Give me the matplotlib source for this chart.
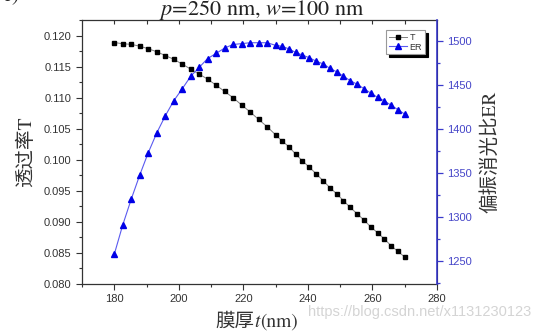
import matplotlib
matplotlib.use('Agg')
import matplotlib.pyplot as plt
from matplotlib.ticker import MultipleLocator

# 膜厚 t (nm)
thickness = [180.0, 182.6, 185.3, 187.9, 190.5, 193.2, 195.8, 198.4, 201.1, 203.7,
             206.3, 208.9, 211.6, 214.2, 216.8, 219.5, 222.1, 224.7, 227.4, 230.0,
             232.0, 234.1, 236.2, 238.3, 240.4, 242.6, 244.7, 246.8, 248.9, 251.0,
             253.1, 255.2, 257.3, 259.4, 261.6, 263.7, 265.8, 267.9, 270.0]

# 透过率 T
trans = [0.1189, 0.1187, 0.1186, 0.1183, 0.1179, 0.1174, 0.1168, 0.1162, 0.1154, 0.1146,
         0.1138, 0.1130, 0.1120, 0.1110, 0.1100, 0.1088, 0.1077, 0.1065, 0.1053, 0.1040,
         0.1030, 0.1021, 0.1009, 0.0998, 0.0988, 0.0977, 0.0966, 0.0955, 0.0945, 0.0934,
         0.0923, 0.0913, 0.0903, 0.0892, 0.0882, 0.0872, 0.0861, 0.0852, 0.0843]

# 偏振消光比 ER
er = [1258, 1291, 1321, 1348, 1373, 1396, 1415, 1432, 1446, 1460,
      1470, 1480, 1486, 1492, 1496, 1497, 1498, 1498, 1498, 1495,
      1494, 1491, 1487, 1484, 1481, 1477, 1474, 1469, 1465, 1460,
      1455, 1451, 1446, 1441, 1436, 1432, 1427, 1422, 1417]

xticks = [180, 200, 220, 240, 260, 280]

plt.rcParams['font.family'] = ['Liberation Sans', 'DejaVu Sans']
plt.rcParams['mathtext.fontset'] = 'stix'

serif_cjk = ['STIXGeneral', 'Noto Sans CJK SC']
blue_axis = '#3a3acc'
W, H = 559, 331

fig = plt.figure(figsize=(5.59, 3.31), dpi=100)
ax = fig.add_axes([0.1467, 0.1429, 0.6351, 0.7967])
ax2 = ax.twinx()

# T (左軸)
l1, = ax.plot(thickness, trans, color='#808080', linewidth=0.7,
              marker='s', markersize=3.3, markerfacecolor='black',
              markeredgecolor='black', label='T', zorder=3)
# ER (右軸)
l2, = ax2.plot(thickness, er, color='#5a5af0', linewidth=0.8,
               marker='^', markersize=4.4, markerfacecolor='#0000e6',
               markeredgecolor='#0000e6', label='ER', zorder=3)

ax.set_xlim(170, 280)
ax.set_ylim(0.080, 0.12253)
ax2.set_ylim(1224.6, 1523.8)

ax.set_xticks(xticks)
ax.xaxis.set_minor_locator(MultipleLocator(10))
ax.yaxis.set_major_locator(MultipleLocator(0.005))
ax.yaxis.set_minor_locator(MultipleLocator(0.0025))
ax.yaxis.set_major_formatter(matplotlib.ticker.FormatStrFormatter('%.3f'))
ax2.yaxis.set_major_locator(MultipleLocator(50))
ax2.yaxis.set_minor_locator(MultipleLocator(25))

ax.tick_params(which='major', direction='out', length=4, width=0.8,
               color='#333333', labelsize=8, labelcolor='#333333')
ax.tick_params(which='minor', direction='out', length=2.5, width=0.8, color='#333333')
ax2.tick_params(which='major', direction='out', length=4, width=0.9,
                color=blue_axis, labelsize=8, labelcolor='#4545c8')
ax2.tick_params(which='minor', direction='out', length=2.5, width=0.9, color=blue_axis)

# 上側の内向き目盛り
top = ax.secondary_xaxis('top')
top.set_xticks(range(180, 280, 10))
top.tick_params(direction='in', length=3, width=0.8, color='#333333', labeltop=False)

for s in ['left', 'bottom', 'top']:
    ax.spines[s].set_color('#333333')
    ax.spines[s].set_linewidth(0.9)
top.spines['top'].set_visible(False)
ax2.spines['right'].set_color(blue_axis)
ax2.spines['right'].set_linewidth(1.2)
for s in ['left', 'bottom', 'top']:
    ax2.spines[s].set_visible(False)

ax.set_ylabel('透过率T', family=serif_cjk, fontsize=14, color='#333333', labelpad=6)
ax2.set_ylabel('偏振消光比ER', family=serif_cjk, fontsize=14, color='#333333', labelpad=6)

# x軸ラベル: 膜厚 + 斜体 t + (nm) を順に並べる
fig.canvas.draw()
renderer = fig.canvas.get_renderer()
base_y = 1 - 327 / H
x_px = 215
parts = [('膜厚', ['Noto Sans CJK SC'], 'normal'),
         ('t', ['STIXGeneral'], 'italic'),
         ('(nm)', ['STIXGeneral'], 'normal')]
for s, fam, style in parts:
    t = fig.text(x_px / W, base_y, s, family=fam, fontstyle=style, fontsize=14,
                 color='#333333', ha='left', va='baseline')
    x_px = t.get_window_extent(renderer).x1 + (1 if style == 'italic' else 0)

# タイトル (上端が切れている)
fig.text(261.5 / W, 1 - 15 / H, '$p$=250 nm, $w$=100 nm', family='STIXGeneral',
         fontsize=16, color='#222222', ha='center', va='baseline')
fig.text(20 / W, 1 - 1 / H, 'c)', family='STIXGeneral', fontsize=16,
         color='#222222', ha='right', va='baseline')

leg = ax2.legend(handles=[l1, l2], loc='upper right', bbox_to_anchor=(0.966, 0.962),
                 fontsize=6.5, frameon=True, fancybox=False, edgecolor='#999999',
                 shadow={'color': 'black', 'alpha': 1}, borderpad=0.3,
                 labelspacing=0.1, handlelength=2.0, handletextpad=0.3,
                 borderaxespad=0)
leg.get_frame().set_linewidth(0.8)
for txt in leg.get_texts():
    txt.set_color('#333333')

# 透かし
fig.text(308 / W, 1 - 316 / H, 'https://blog.csdn.net/x1131230123', fontsize=10.5,
         color='#d4d4d4', ha='left', va='baseline', zorder=10)

fig.savefig('out.png', dpi=100)
